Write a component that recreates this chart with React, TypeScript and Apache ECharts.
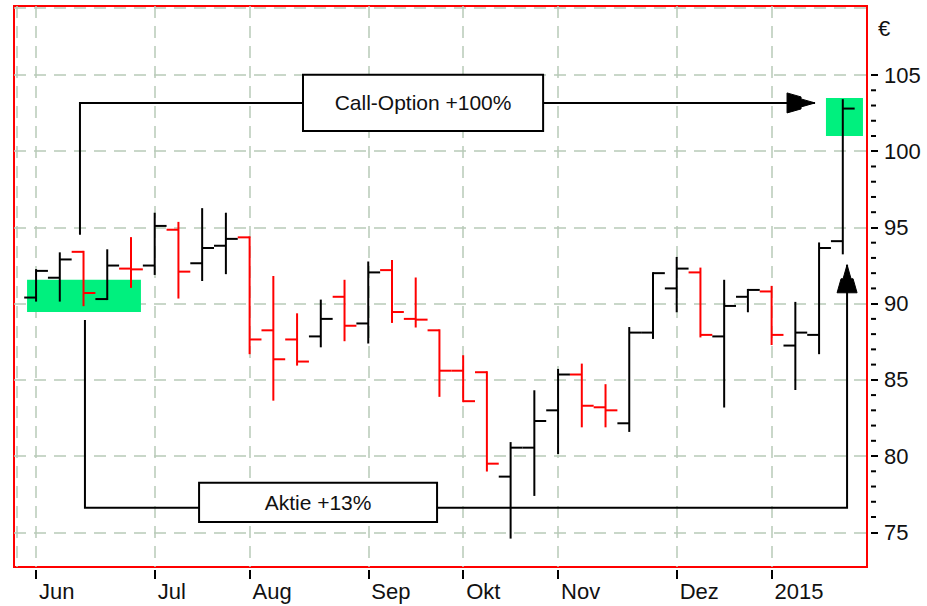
import React, { useEffect, useRef } from 'react';
import * as echarts from 'echarts';

// Weekly OHLC bars (June 2014 – January 2015)
const barOpen = [90.4, 91.7, 93.4, 90.3, 92.3, 92.5, 94.85, 92.65, 93.8, 94.35, 88.25, 87.65, 87.85, 90.45, 88.7, 92.2, 89.0, 88.25, 85.6, 85.5, 78.65, 80.55, 83.0, 85.35, 83.2, 82.15, 88.1, 91.0, 92.05, 87.85, 90.45, 90.8, 87.25, 87.95, 94.1];
const barHigh = [92.2, 93.3, 93.4, 93.5, 94.3, 95.9, 95.3, 96.2, 95.9, 94.35, 91.75, 89.3, 90.2, 91.5, 92.7, 92.8, 91.65, 88.25, 86.55, 85.5, 80.85, 84.25, 85.65, 86.0, 84.65, 88.4, 92.0, 93.0, 92.3, 91.5, 90.9, 91.1, 90.05, 93.95, 103.35];
const barLow = [90.2, 90.2, 89.9, 90.3, 91.1, 91.95, 90.4, 91.55, 92.0, 86.75, 83.7, 86.0, 87.2, 87.6, 87.45, 88.8, 88.5, 83.95, 83.6, 79.05, 74.65, 77.45, 80.2, 81.95, 81.95, 81.65, 87.75, 89.5, 87.85, 83.25, 89.5, 87.35, 84.4, 86.75, 93.3];
const barClose = [92.15, 92.9, 90.7, 92.5, 92.25, 95.1, 92.1, 93.65, 94.25, 87.65, 86.35, 86.2, 89.0, 88.55, 92.05, 89.45, 88.95, 85.6, 83.6, 79.5, 80.55, 82.3, 85.35, 83.3, 83.0, 88.1, 92.0, 92.3, 87.95, 89.85, 90.9, 87.95, 88.1, 93.65, 102.8];

// x-axis: first bar of each month
const monthTickIndex = [0, 5, 9, 14, 18, 22, 27, 31];
const monthLabels = ['Jun', 'Jul', 'Aug', 'Sep', 'Okt', 'Nov', 'Dez', '2015'];
const xGridValues = [-0.81, 0, 5, 9, 14, 18, 22, 27, 31];

// y-axis
const yTickValues = [75, 80, 85, 90, 95, 100, 105];
const yGridValues = [75, 80, 85, 90, 95, 100, 105, 109.4];
const yMinorValues = [76, 77, 78, 79, 81, 82, 83, 84, 86, 87, 88, 89, 91, 92, 93, 94, 96, 97, 98, 99, 101, 102, 103, 104];

// annotations (data coordinates: bar index, price)
const greenZones = [
  [-0.38, 89.46, 4.42, 91.56],
  [33.29, 101.0, 34.85, 103.5],
];
const callPath = [[1.85, 94.52], [1.85, 103.17], [32.83, 103.17]];
const aktiePath = [[2.06, 88.93], [2.06, 76.61], [34.18, 76.61], [34.18, 92.55]];
const callBox = [11.25, 101.33, 21.37, 105.02];
const aktieBox = [6.87, 75.68, 16.9, 78.24];
const callLabel = 'Call-Option +100%';
const aktieLabel = 'Aktie +13%';

const FONT = '"Liberation Sans", Arial, sans-serif';
const X_MIN = -0.93;
const X_MAX = 35.02;
const Y_MIN = 72.72;
const Y_MAX = 109.53;

function arrowHead(tip: number[], prev: number[]) {
  const dx = tip[0] - prev[0];
  const dy = tip[1] - prev[1];
  const len = Math.hypot(dx, dy) || 1;
  const ux = dx / len, uy = dy / len;
  const px = -uy, py = ux;
  const rel = [[0, 0], [-14, 4], [-14, 6], [-28, 10], [-28, -10], [-14, -6], [-14, -4]];
  return rel.map(([a, b]) => [tip[0] + ux * a + px * b, tip[1] + uy * a + py * b]);
}

export default function App() {
  const ref = useRef<HTMLDivElement>(null);
  useEffect(() => {
    document.body.style.margin = '0';
    if (!ref.current) return;
    const chart = echarts.init(ref.current, null, { renderer: 'svg' });
    const rows = barOpen.map((o, i) => [i, o, barHigh[i], barLow[i], barClose[i]]);
    const noLine = { show: false, onZero: false };

    const option: any = {
      animation: false,
      backgroundColor: '#ffffff',
      grid: {
        left: 14, top: 6, right: 60, bottom: 39,
        show: true, borderColor: '#FF0000', borderWidth: 2, backgroundColor: 'transparent',
      },
      xAxis: [
        {
          type: 'value', min: X_MIN, max: X_MAX, position: 'bottom',
          axisLine: noLine,
          axisTick: { show: false, customValues: xGridValues },
          axisLabel: { show: false },
          splitLine: { show: true, lineStyle: { color: '#B8CAB8', width: 1.5, type: [12, 8] } },
        },
        {
          type: 'value', min: X_MIN, max: X_MAX, position: 'bottom', offset: 3,
          axisLine: noLine,
          axisTick: { show: true, length: 9, customValues: monthTickIndex, lineStyle: { color: '#000', width: 2 } },
          axisLabel: {
            show: true, customValues: monthTickIndex, margin: 10, align: 'left', padding: [0, 0, 0, 3],
            fontFamily: FONT, fontSize: 22, color: '#111',
            formatter: (v: number) => monthLabels[monthTickIndex.indexOf(Math.round(v))] ?? '',
          },
          splitLine: { show: false },
        },
      ],
      yAxis: [
        {
          type: 'value', min: Y_MIN, max: Y_MAX, position: 'right',
          axisLine: noLine,
          axisTick: { show: false, customValues: yGridValues },
          axisLabel: { show: false },
          splitLine: { show: true, lineStyle: { color: '#B8CAB8', width: 1.5, type: [12, 8] } },
        },
        {
          type: 'value', min: Y_MIN, max: Y_MAX, position: 'right', offset: 4,
          axisLine: noLine,
          axisTick: { show: true, length: 7, customValues: yTickValues, lineStyle: { color: '#000', width: 2 } },
          axisLabel: {
            show: true, customValues: yTickValues, margin: 13,
            fontFamily: FONT, fontSize: 22, color: '#111',
          },
          splitLine: { show: false },
        },
      ],
      graphic: [
        {
          type: 'text', left: 878, top: 17,
          style: { text: '€', fontFamily: FONT, fontSize: 22, fill: '#111' },
        },
      ],
      series: [
        {
          type: 'custom', name: 'annotations', z: 1, silent: true, clip: false,
          xAxisIndex: 0, yAxisIndex: 0,
          data: [[0, 90]],
          renderItem: (_p: any, api: any) => {
            const children: any[] = [];
            greenZones.forEach(([x0, y0, x1, y1]) => {
              const a = api.coord([x0, y1]);
              const b = api.coord([x1, y0]);
              children.push({
                type: 'rect', shape: { x: a[0], y: a[1], width: b[0] - a[0], height: b[1] - a[1] },
                style: { fill: '#00F07E' },
              });
            });
            [callPath, aktiePath].forEach((path) => {
              const pts = path.map((p) => api.coord(p));
              children.push({
                type: 'polyline', shape: { points: pts },
                style: { stroke: '#000', lineWidth: 2, fill: null },
              });
              const tip = pts[pts.length - 1];
              const prev = pts[pts.length - 2];
              children.push({
                type: 'polygon', shape: { points: arrowHead(tip, prev) },
                style: { fill: '#000', stroke: '#000', lineWidth: 1 },
              });
            });
            [[callBox, callLabel], [aktieBox, aktieLabel]].forEach(([box, label]: any) => {
              const a = api.coord([box[0], box[3]]);
              const b = api.coord([box[2], box[1]]);
              children.push({
                type: 'rect', shape: { x: a[0], y: a[1], width: b[0] - a[0], height: b[1] - a[1] },
                style: { fill: '#fff', stroke: '#000', lineWidth: 2 },
              });
              children.push({
                type: 'text',
                style: {
                  text: label, x: (a[0] + b[0]) / 2, y: (a[1] + b[1]) / 2,
                  align: 'center', verticalAlign: 'middle',
                  fontFamily: FONT, fontSize: 21, fill: '#111',
                },
              });
            });
            // minor price-axis ticks, placed through the scales just right of the plot frame
            yMinorValues.forEach((v) => {
              const p = api.coord([X_MAX, v]);
              children.push({
                type: 'rect',
                shape: { x: p[0] + 4, y: p[1] - 1, width: 5, height: 2 },
                style: { fill: '#000' },
              });
            });
            return { type: 'group', children };
          },
        },
        {
          type: 'custom', name: 'OHLC', z: 2, silent: true,
          xAxisIndex: 0, yAxisIndex: 0,
          encode: { x: 0, y: [1, 2, 3, 4] },
          data: rows,
          renderItem: (_p: any, api: any) => {
            const i = api.value(0);
            const o = api.value(1), h = api.value(2), l = api.value(3), c = api.value(4);
            const pH = api.coord([i, h]);
            const pL = api.coord([i, l]);
            const pO = api.coord([i, o]);
            const pC = api.coord([i, c]);
            const half = api.coord([i + 0.5, o])[0] - pO[0];
            const color = c < o ? '#FF0000' : '#000000';
            const st = { stroke: color, lineWidth: 2 };
            return {
              type: 'group',
              children: [
                { type: 'line', shape: { x1: pH[0], y1: pH[1] - 1, x2: pL[0], y2: pL[1] + 1 }, style: st },
                { type: 'line', shape: { x1: pO[0] - half, y1: pO[1], x2: pO[0], y2: pO[1] }, style: st },
                { type: 'line', shape: { x1: pC[0], y1: pC[1], x2: pC[0] + half, y2: pC[1] }, style: st },
              ],
            };
          },
        },
      ],
    };
    chart.setOption(option);
    return () => chart.dispose();
  }, []);
  return <div ref={ref} style={{ width: 927, height: 606 }} />;
}
